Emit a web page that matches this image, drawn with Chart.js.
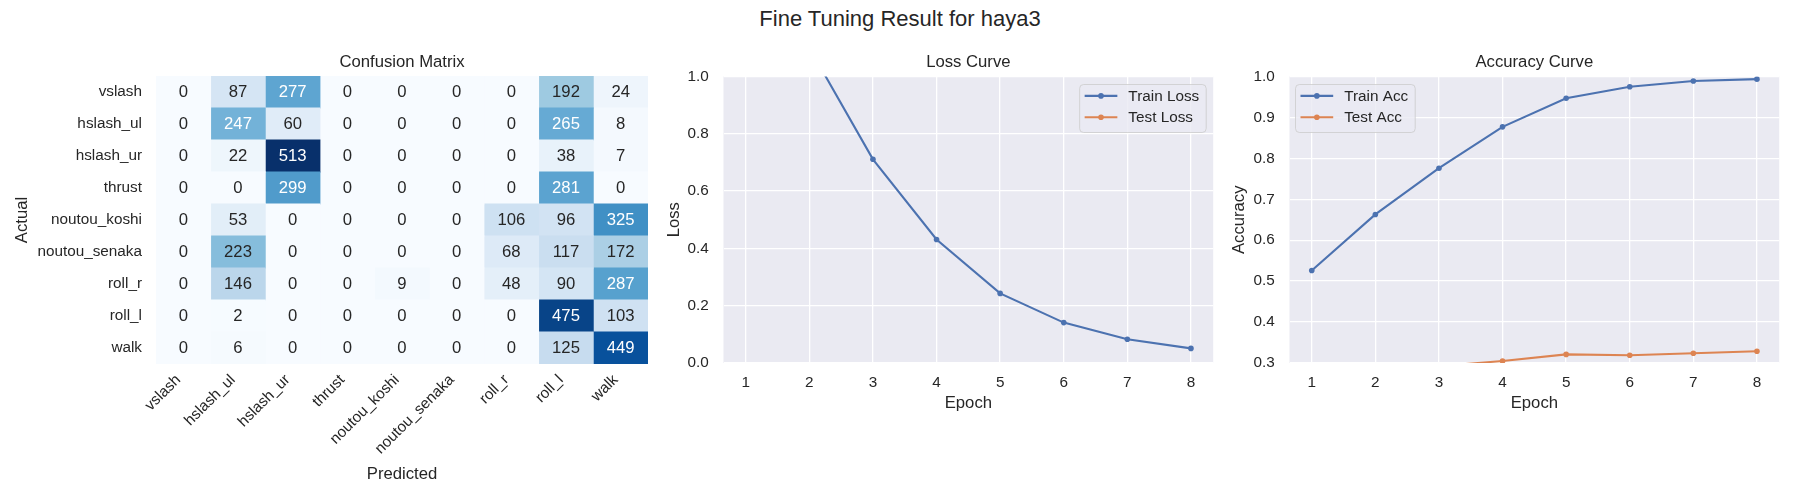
<!DOCTYPE html>
<html><head><meta charset="utf-8">
<script src="https://cdn.jsdelivr.net/npm/chart.js@4.4.1/dist/chart.umd.min.js"></script>
<style>
html,body{margin:0;padding:0;background:#fff;width:1800px;height:500px;overflow:hidden;font-family:'Liberation Sans',Arial,sans-serif}
#sup{position:absolute;left:0;width:1800px;top:7px;text-align:center;font-size:22px;line-height:24px;color:#262626}
canvas{position:absolute;top:0}
</style></head><body>
<div id="sup">Fine Tuning Result for haya3</div>
<canvas id="cm" width="650" height="500" style="left:0px"></canvas>
<canvas id="loss" width="566" height="500" style="left:650px"></canvas>
<canvas id="acc" width="582" height="500" style="left:1200px"></canvas>
<script>
// ---------- data ----------
const classLabels = ['vslash','hslash_ul','hslash_ur','thrust','noutou_koshi','noutou_senaka','roll_r','roll_l','walk'];
const confusion = [
  [0, 87, 277, 0, 0, 0, 0, 192, 24],
  [0, 247, 60, 0, 0, 0, 0, 265, 8],
  [0, 22, 513, 0, 0, 0, 0, 38, 7],
  [0, 0, 299, 0, 0, 0, 0, 281, 0],
  [0, 53, 0, 0, 0, 0, 106, 96, 325],
  [0, 223, 0, 0, 0, 0, 68, 117, 172],
  [0, 146, 0, 0, 9, 0, 48, 90, 287],
  [0, 2, 0, 0, 0, 0, 0, 475, 103],
  [0, 6, 0, 0, 0, 0, 0, 125, 449]
];
const epochs = [1, 2, 3, 4, 5, 6, 7, 8];
const trainLoss = [1.60, 1.10, 0.711, 0.431, 0.243, 0.141, 0.083, 0.051];
const testLoss = [1.90, 2.20, 2.50, 2.80, 3.00, 3.20, 3.30, 3.40];
const trainAcc = [0.526, 0.663, 0.776, 0.877, 0.947, 0.975, 0.989, 0.9935];
const testAcc = [0.24, 0.27, 0.292, 0.305, 0.321, 0.319, 0.324, 0.3286];
const lossTicks = [0.0, 0.2, 0.4, 0.6, 0.8, 1.0];
const accTicks = [0.3, 0.4, 0.5, 0.6, 0.7, 0.8, 0.9, 1.0];

// ---------- style ----------
const FONT = "'Liberation Sans', Arial, sans-serif";
const TXT = '#262626';
const BLUE = '#4C72B0', ORANGE = '#DD8452';
const BLUES = ['#f7fbff','#deebf7','#c6dbef','#9ecae1','#6baed6','#4292c6','#2171b5','#08519c','#08306b'];
Chart.defaults.font.family = FONT;
Chart.defaults.color = TXT;

function hexRgb(h){return [1,3,5].map(i=>parseInt(h.slice(i,i+2),16));}
function bluesRgb(t){
  t = Math.max(0, Math.min(1, t));
  const p = t * (BLUES.length - 1), i = Math.min(Math.floor(p), BLUES.length - 2), f = p - i;
  const a = hexRgb(BLUES[i]), b = hexRgb(BLUES[i+1]);
  return a.map((v,k)=>v + (b[k]-v)*f);
}
function rgbStr(c){return 'rgb(' + c.map(v=>Math.round(v)).join(',') + ')';}
function luminance(c){
  const l = c.map(v=>{v/=255; return v <= 0.03928 ? v/12.92 : Math.pow((v+0.055)/1.055, 2.4);});
  return 0.2126*l[0] + 0.7152*l[1] + 0.0722*l[2];
}
const vmin = Math.min(...confusion.flat()), vmax = Math.max(...confusion.flat());
const norm = v => (v - vmin) / (vmax - vmin);

// ---------- plugins ----------
const bgPlugin = {
  id: 'areaBg',
  beforeDraw(chart, args, opts){
    if (!opts || !opts.color) return;
    const a = chart.chartArea, ctx = chart.ctx;
    ctx.save(); ctx.fillStyle = opts.color;
    ctx.fillRect(a.left, a.top, a.right - a.left, a.bottom - a.top);
    ctx.restore();
  }
};
const annotPlugin = {
  id: 'cellText',
  afterDatasetsDraw(chart){
    const ctx = chart.ctx;
    ctx.save();
    ctx.font = '16.7px ' + FONT;
    ctx.textAlign = 'center'; ctx.textBaseline = 'middle';
    chart.data.datasets.forEach((ds, j) => {
      const meta = chart.getDatasetMeta(j);
      meta.data.forEach((el, i) => {
        const v = confusion[i][j];
        const c = bluesRgb(norm(v));
        ctx.fillStyle = luminance(c) > 0.408 ? TXT : '#ffffff';
        const p = el.getCenterPoint();
        ctx.fillText(String(v), p.x, p.y + 0.5);
      });
    });
    ctx.restore();
  }
};
const legendPlugin = {
  id: 'boxLegend',
  afterDraw(chart, args, opts){
    if (!opts || !opts.display) return;
    const ctx = chart.ctx, a = chart.chartArea;
    ctx.save();
    ctx.font = '15.3px ' + FONT;
    const items = chart.data.datasets;
    const tw = Math.max(...items.map(d => ctx.measureText(d.label).width));
    const padL = 5, handle = 32.7, gap = 11, padR = 7;
    const w = padL + handle + gap + tw + padR, h = 48;
    const x0 = opts.align === 'right' ? a.right - 7 - w : a.left + 6;
    const y0 = a.top + 8;
    ctx.beginPath();
    if (ctx.roundRect) ctx.roundRect(x0, y0, w, h, 4); else ctx.rect(x0, y0, w, h);
    ctx.fillStyle = 'rgba(234,234,242,0.8)'; ctx.fill();
    ctx.lineWidth = 1; ctx.strokeStyle = 'rgba(204,204,204,0.8)'; ctx.stroke();
    items.forEach((d, i) => {
      const y = y0 + 11.4 + i * 21.3;
      const hx = x0 + padL;
      ctx.beginPath(); ctx.moveTo(hx, y); ctx.lineTo(hx + handle, y);
      ctx.strokeStyle = d.borderColor; ctx.lineWidth = 2.1; ctx.stroke();
      ctx.beginPath(); ctx.arc(hx + handle/2, y, 2.8, 0, Math.PI*2);
      ctx.fillStyle = d.borderColor; ctx.fill();
      ctx.fillStyle = TXT; ctx.textAlign = 'left'; ctx.textBaseline = 'middle';
      ctx.fillText(d.label, hx + handle + gap, y + 0.5);
    });
    ctx.restore();
  }
};

function fixWidth(w){ return s => { s.width = w; s.paddingTop = 0; s.paddingBottom = 0; s.paddingLeft = 0; s.paddingRight = 0; }; }
function fixHeight(h){ return s => { s.height = h; s.paddingTop = 0; s.paddingBottom = 0; s.paddingLeft = 0; s.paddingRight = 0; }; }
function titleOpts(text, areaTop){
  return { display: true, text, fullSize: false, color: TXT,
    font: { size: 16.7, weight: 'normal', lineHeight: 1.2 },
    padding: { top: 52, bottom: areaTop - 52 - 16.7*1.2 } };
}

// ---------- confusion matrix ----------
new Chart(document.getElementById('cm'), {
  type: 'bar',
  data: {
    labels: classLabels,
    datasets: classLabels.map((pred, j) => ({
      label: pred,
      data: classLabels.map(() => 1),
      backgroundColor: confusion.map(row => rgbStr(bluesRgb(norm(row[j])))),
      borderWidth: 0,
      inflateAmount: 0.4,
      categoryPercentage: 1.0,
      barPercentage: 1.0
    }))
  },
  options: {
    indexAxis: 'y', responsive: false, animation: false,
    layout: { padding: { right: 2, left: 0, top: 0, bottom: 0 } },
    scales: {
      x: {
        type: 'linear', min: 0, max: classLabels.length, stacked: true,
        grid: { display: false, drawTicks: false, tickLength: 0 }, border: { display: false },
        afterBuildTicks: s => { s.ticks = classLabels.map((_, i) => ({ value: i + 0.5 })); },
        afterFit: fixHeight(136),
        ticks: { autoSkip: false, minRotation: 45, maxRotation: 45, padding: 7, labelOffset: -5,
          font: { size: 15.3 }, color: TXT,
          callback: v => classLabels[Math.floor(v)] },
        title: { display: true, text: 'Predicted', color: TXT, font: { size: 16.7, lineHeight: 1.2 }, padding: { top: 0, bottom: 16 } }
      },
      y: {
        type: 'category', stacked: true,
        grid: { display: false, drawTicks: false, tickLength: 0 }, border: { display: false },
        afterFit: fixWidth(156),
        ticks: { padding: 14, font: { size: 15.3 }, color: TXT },
        title: { display: true, text: 'Actual', color: TXT, font: { size: 16.7, lineHeight: 1.2 }, padding: { top: 12, bottom: 0 } }
      }
    },
    plugins: {
      legend: { display: false }, tooltip: { enabled: false },
      title: titleOpts('Confusion Matrix', 76)
    }
  },
  plugins: [annotPlugin]
});

// ---------- line charts ----------
function lineChart(id, title, yLabel, seriesA, seriesB, labA, labB, yTicks, yW, yTitlePad, yTickPad, legendAlign, rightPad){
  return new Chart(document.getElementById(id), {
    type: 'line',
    data: {
      datasets: [
        { label: labA, data: epochs.map((e, i) => ({ x: e, y: seriesA[i] })) , borderColor: BLUE, backgroundColor: BLUE },
        { label: labB, data: epochs.map((e, i) => ({ x: e, y: seriesB[i] })) , borderColor: ORANGE, backgroundColor: ORANGE }
      ].map(d => Object.assign(d, { borderWidth: 2.1, pointRadius: 2.8, pointHoverRadius: 2.8, pointBorderWidth: 0,
        pointBackgroundColor: d.borderColor, tension: 0, fill: false, clip: 0 }))
    },
    options: {
      responsive: false, animation: false,
      layout: { padding: { right: rightPad, left: 0, top: 0, bottom: 0 } },
      scales: {
        x: {
          type: 'linear', min: epochs[0] - 0.35, max: epochs[epochs.length-1] + 0.35,
          afterBuildTicks: s => { s.ticks = epochs.map(v => ({ value: v })); },
          afterFit: fixHeight(137),
          grid: { color: '#ffffff', lineWidth: 1.3, drawTicks: false, tickLength: 0 }, border: { display: false },
          ticks: { padding: 10.8, font: { size: 15.3 }, color: TXT, callback: v => String(v) },
          title: { display: true, text: 'Epoch', color: TXT, font: { size: 16.7, lineHeight: 1.2 }, padding: { top: 0, bottom: 87 } }
        },
        y: {
          type: 'linear', min: yTicks[0], max: yTicks[yTicks.length-1],
          afterBuildTicks: s => { s.ticks = yTicks.map(v => ({ value: v })); },
          afterFit: fixWidth(yW),
          grid: { color: '#ffffff', lineWidth: 1.3, drawTicks: false, tickLength: 0 }, border: { display: false },
          ticks: { padding: yTickPad, font: { size: 15.3 }, color: TXT, callback: v => Number(v).toFixed(1) },
          title: { display: true, text: yLabel, color: TXT, font: { size: 16.7, lineHeight: 1.2 }, padding: { top: yTitlePad, bottom: 0 } }
        }
      },
      plugins: {
        legend: { display: false }, tooltip: { enabled: false },
        title: titleOpts(title, 76.5),
        areaBg: { color: '#EAEAF2' },
        boxLegend: { display: true, align: legendAlign }
      }
    },
    plugins: [bgPlugin, legendPlugin]
  });
}
lineChart('loss', 'Loss Curve', 'Loss', trainLoss, testLoss, 'Train Loss', 'Test Loss', lossTicks, 73.5, 14, 14.7, 'right', 1);
lineChart('acc', 'Accuracy Curve', 'Accuracy', trainAcc, testAcc, 'Train Acc', 'Test Acc', accTicks, 89.5, 29.6, 14.8, 'left', 1);
</script>
</body></html>
